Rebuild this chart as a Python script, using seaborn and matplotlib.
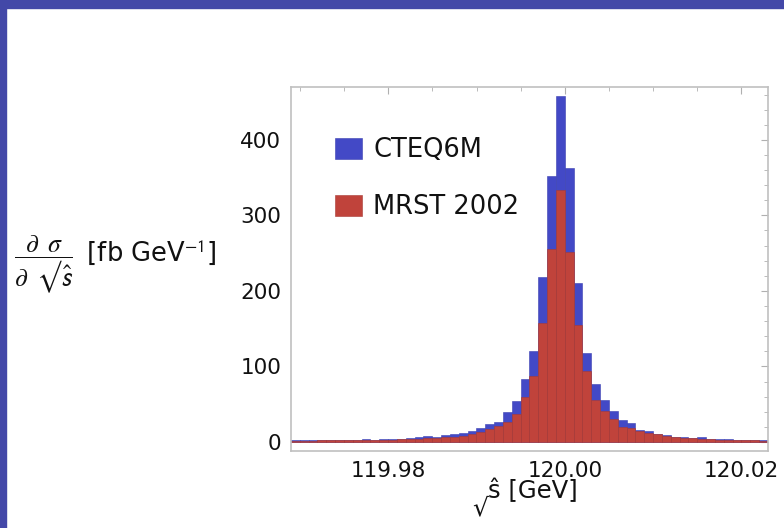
import numpy as np
import pandas as pd
import matplotlib
matplotlib.use("Agg")
import matplotlib.pyplot as plt
from matplotlib.patches import Rectangle
from matplotlib.ticker import MultipleLocator, FixedLocator
import seaborn as sns

# histogram bins: 1 MeV wide, starting at 119.969 GeV
bin_start = 119.969
bin_width = 0.001
cteq6m = [2.5, 2.5, 2.3, 2.7, 2.7, 2.3, 2.5, 2.8, 3.5, 3.2,
          4.5, 4.2, 4.5, 5.0, 6.5, 8.5, 6.0, 9.5, 11, 12,
          14, 18, 24, 26, 39, 54, 84, 121, 218, 352,
          458, 363, 211, 118, 77, 55, 41, 29, 25, 16,
          14.5, 11, 9.3, 7, 7, 5.7, 6.2, 4.4, 3.5, 4,
          3, 3, 2.6, 2.2]
mrst2002 = [1.5, 1.8, 1.8, 2.0, 2.0, 2.0, 2.2, 2.3, 2.5, 2.6,
            3.0, 3.2, 3.5, 3.8, 4.2, 5.0, 5.2, 6.0, 7, 8.5,
            10, 13, 17, 21, 27, 37, 60, 87, 157, 255,
            334, 251, 155, 94, 55, 41, 31, 20, 18, 14,
            12, 10, 8.4, 6, 5.7, 5, 4.4, 3.5, 3.1, 2.6,
            2.6, 2.2, 2.2, 1.8]
series_names = ["CTEQ6M", "MRST 2002"]
series_colors = ["#4349C6", "#C0433B"]
xtick_labels = ["119.98", "120.00", "120.02"]

n_bins = len(cteq6m)
edges = bin_start + bin_width * np.arange(n_bins + 1)
centers = edges[:-1] + bin_width / 2

sns.set_theme(style="white")
plt.rcParams["font.family"] = ["DejaVu Sans"]
plt.rcParams["mathtext.fontset"] = "stix"

fig = plt.figure(figsize=(7.84, 5.28), dpi=100)
fig.patch.set_facecolor("white")
# slide border (top and left)
fig.patches.append(Rectangle((0, 1 - 8 / 528), 1, 8 / 528, transform=fig.transFigure,
                             color="#4348A8", zorder=0))
fig.patches.append(Rectangle((0, 0), 6 / 784, 1, transform=fig.transFigure,
                             color="#4348A8", zorder=0))

ax = fig.add_axes([291 / 784, 1 - 451 / 528, 477 / 784, 364 / 528])

for vals, name, col, edge in zip([cteq6m, mrst2002], series_names, series_colors,
                                 ["#3a40b0", "#a93a34"]):
    df = pd.DataFrame({"x": centers, "w": vals})
    sns.histplot(data=df, x="x", weights="w", bins=list(edges), ax=ax, color=col,
                 alpha=1, edgecolor=edge, linewidth=0.4, label=name)

ax.set_xlim(119.969, 120.023)
ax.set_ylim(-12, 470)
ax.set_xlabel("")
ax.set_ylabel("")

ax.xaxis.set_major_locator(FixedLocator([119.98, 120.00, 120.02]))
ax.xaxis.set_minor_locator(MultipleLocator(0.005))
ax.set_xticklabels(xtick_labels)
ax.yaxis.set_major_locator(MultipleLocator(100))
ax.yaxis.set_minor_locator(MultipleLocator(20))
ax.tick_params(which="both", direction="in", top=True, right=True,
               color="#b0b0b0", labelsize=15.5, labelcolor="#111111")
ax.tick_params(which="major", length=5, width=0.8)
ax.tick_params(axis="y", which="major", pad=7)
ax.tick_params(axis="x", which="major", pad=7)
ax.tick_params(which="minor", length=3, width=0.6)
for s in ax.spines.values():
    s.set_color("#c0c0c0")
    s.set_linewidth(1.2)

leg = ax.legend(loc="upper left", bbox_to_anchor=(0.07, 0.89), frameon=False,
                fontsize=18.5, handlelength=1.05, handleheight=0.85,
                handletextpad=0.45, labelspacing=1.2, borderaxespad=0)
for t in leg.get_texts():
    t.set_color("#111111")

fig.text(14 / 784, 1 - 264 / 528,
         r"$\dfrac{\partial\;\;\sigma}{\partial\;\;\mathsf{√\hat{s}}}\;$ [fb GeV$^{\mathsf{-1}}$]",
         fontsize=18.5, va="center", ha="left", color="#111111")
fig.text(488 / 784, 1 - 508 / 528, "√", fontsize=18, ha="right", va="center",
         color="#111111")
fig.text(488 / 784, 1 - 491 / 528, "ŝ [GeV]", fontsize=17.5, ha="left",
         va="center", color="#111111")

fig.savefig("out.png", dpi=100)
